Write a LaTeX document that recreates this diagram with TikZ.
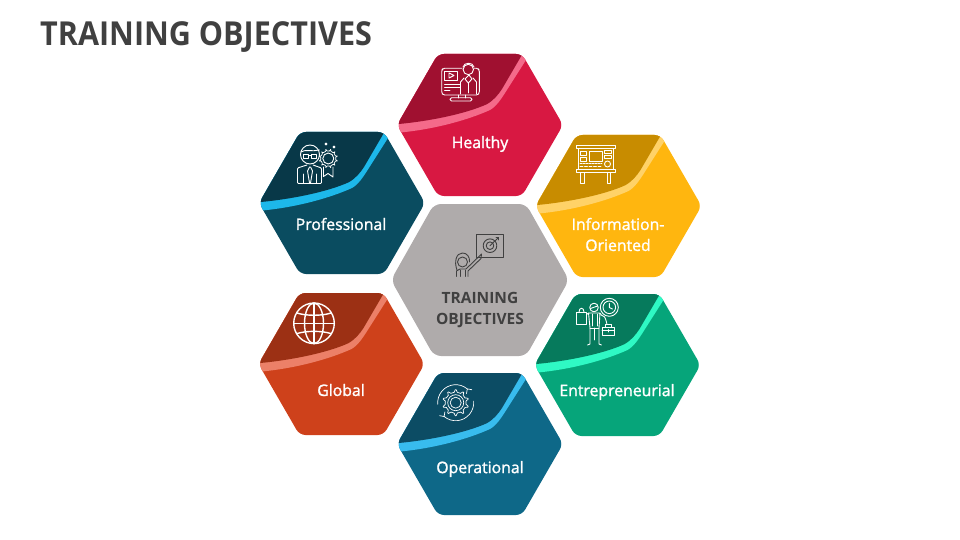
\documentclass[tikz,border=0pt]{standalone}
\usepackage{fontspec}
\setmainfont{Open Sans}
\newfontfamily\labelfont{Open Sans}[FakeBold=1.4]
\newfontfamily\titlefont{Open Sans Bold}[FakeStretch=0.925]
\usepackage{tikz}
\usetikzlibrary{positioning,arrows.meta}
\definecolor{titlegray}{HTML}{404040}
\definecolor{centergray}{HTML}{AFABAB}
\definecolor{healthyfill}{HTML}{D81842}
\definecolor{healthydark}{HTML}{A01030}
\definecolor{healthylight}{HTML}{F46A8A}
\definecolor{proffill}{HTML}{0A4C60}
\definecolor{profdark}{HTML}{083848}
\definecolor{proflight}{HTML}{1DB8EA}
\definecolor{infofill}{HTML}{FFB60F}
\definecolor{infodark}{HTML}{C88C00}
\definecolor{infolight}{HTML}{FFD268}
\definecolor{entrefill}{HTML}{06A57A}
\definecolor{entredark}{HTML}{067A5C}
\definecolor{entrelight}{HTML}{2FF9C4}
\definecolor{globalfill}{HTML}{CE411B}
\definecolor{globaldark}{HTML}{9C3014}
\definecolor{globallight}{HTML}{EC8068}
\definecolor{operfill}{HTML}{0E6888}
\definecolor{operdark}{HTML}{0C4C64}
\definecolor{operlight}{HTML}{38BCEE}
\newcommand*{\hexpath}{(-62.5,-35.5) -- (-42,-71) -- (42,-71) -- (83,0) -- (42,71) -- (-42,71) -- (-83,0) -- cycle}
\newcommand*{\hexcard}[5]{
	\begin{scope}[shift={(#1,#2)}]
		\fill[#4, rounded corners=6pt] \hexpath;
		\begin{scope}
			\clip[rounded corners=6pt] \hexpath;
			\fill[#5] (-90,8.3) -- (-77.7,7.3) .. controls (-45,4) and (-12,-5) .. (10,-15) .. controls (17,-19) and (21,-26) .. (25,-32) -- (46,-65) -- (60,-90) -- (-90,-90) -- cycle;
			\fill[#3] (-90,0) -- (-81,-1) .. controls (-50,-4) and (-15,-11) .. (6.7,-20.7) .. controls (14,-25) and (18,-30) .. (22,-36) -- (43,-72) -- (50,-90) -- (-90,-90) -- cycle;
		\end{scope}
	\end{scope}
}
% toothed ring around a point, radii in pt
\newcommand*{\toothring}[5]{
	\begin{scope}[shift={(#1,#2)}]
		\foreach \a in {0,#5,...,359}
			\draw[icon, line width=0.7pt] (\a-9:#3 pt) -- (\a+9:#3 pt) -- (\a+16:#4 pt) -- (\a+#5-16:#4 pt) -- (\a+#5-9:#3 pt);
	\end{scope}
}

\begin{document}
\begin{tikzpicture}[x=1pt,y=-1pt]
	\tikzstyle{heading}=[text=titlegray, font=\fontsize{33}{36}\selectfont\titlefont, anchor=west, inner sep=0pt]
	\tikzstyle{caption}=[text=white, font=\fontsize{15.8}{21}\selectfont\labelfont, align=center, inner sep=0pt]
	\tikzstyle{centercaption}=[text=titlegray, font=\fontsize{15.5}{21}\selectfont\bfseries, align=center, inner sep=0pt]
	\tikzstyle{icon}=[draw=white, line width=0.9pt, line join=round, line cap=round]
	\tikzstyle{darkicon}=[draw=titlegray, line width=0.9pt, line join=round, line cap=round]
	\useasboundingbox (0,0) rectangle (960,540);

	\node (Title) [heading] at (40,37.5) {TRAINING OBJECTIVES};

	% hexagons
	\hexcard{480}{125}{healthydark}{healthyfill}{healthylight}
	\hexcard{342}{203}{profdark}{proffill}{proflight}
	\hexcard{618.5}{206}{infodark}{infofill}{infolight}
	\hexcard{617.5}{365}{entredark}{entrefill}{entrelight}
	\hexcard{341.5}{364}{globaldark}{globalfill}{globallight}
	\hexcard{480}{444}{operdark}{operfill}{operlight}
	\fill[centergray, rounded corners=7pt] (480,204) -- (526,204) -- (569,280) -- (526,356) -- (434,356) -- (391,280) -- (434,204) -- cycle;

	% labels
	\node (Healthy) [caption] at (480,144) {Healthy};
	\node (Professional) [caption] at (341,224) {Professional};
	\node (Information) [caption] at (618,234.5) {Information-\\Oriented};
	\node (Entrepreneurial) [caption] at (617,392) {Entrepreneurial};
	\node (Global) [caption] at (341,390) {Global};
	\node (Operational) [caption] at (480,469) {Operational};
	\node (Objectives) [centercaption] at (480,310) {TRAINING\\OBJECTIVES};

	% healthy icon
	\draw[icon, rounded corners=1.5pt] (463,95) -- (443,95) -- (441.7,93) -- (441.7,70) -- (443,68.3) -- (462,68.3);
	\draw[icon, rounded corners=1.5pt] (474,68.3) -- (478,68.3) -- (479.3,70) -- (479.3,93) -- (478,95) -- (463,95);
	\draw[icon] (444.3,71) rectangle (457.7,80);
	\draw[icon] (449,73) -- (454,75.5) -- (449,78) -- cycle;
	\draw[icon] (444.5,84) -- (460,84);
	\draw[icon] (444.5,87) -- (460,87);
	\draw[icon] (444.5,90) -- (450,90);
	\draw[icon] (458,95) -- (458,98);
	\draw[icon] (465,95) -- (465,98);
	\draw[icon, rounded corners=1.5pt] (450,97.8) rectangle (472,101);
	\draw[icon] (468.3,69.5) circle (5.2);
	\draw[icon] (463,67) .. controls (464,62) and (473,62) .. (474,67);
	\draw[icon] (469,75) -- (465,79) -- (468.3,83) -- (472,79) -- cycle;
	\draw[icon] (468.3,83) -- (468.3,93);
	\draw[icon] (460.5,94) -- (460.5,82) -- (464,78);
	\draw[icon] (476.5,94) -- (476.5,82) -- (473,78);

	% professional icon
	\draw[icon] (310,154.5) circle (9.5);
	\draw[icon] (300.8,152) .. controls (305,149) and (312,152) .. (319.3,150);
	\draw[icon] (303.5,154) rectangle (308.5,158);
	\draw[icon] (311.5,154) rectangle (316.5,158);
	\draw[icon] (308.5,155) -- (311.5,155);
	\draw[icon, rounded corners=1pt] (307,165) -- (297.5,168) -- (297.5,183.5) -- (321.5,183.5) -- (321.5,168) -- (313,165);
	\draw[icon] (309.5,167) -- (307.5,171) -- (309.5,183);
	\draw[icon] (310.5,167) -- (312.5,171) -- (310.5,183);
	\draw[icon] (303,174) -- (303,183.5);
	\draw[icon] (316.5,174) -- (316.5,183.5);
	\draw[icon] (328.3,158.5) circle (5.5);
	\toothring{328.3}{158.5}{7.6}{9.3}{30}
	\draw[icon] (323.5,167) -- (323.5,176.5) -- (328,173.5) -- (333,177) -- (333,167);
	\draw[icon] (326,143) -- (327,144) -- (326,145) -- (325,144) -- cycle;
	\draw[icon] (334,146) -- (335,147) -- (334,148) -- (333,147) -- cycle;

	% information icon
	\draw[icon] (576.7,145.7) rectangle (615,148.3);
	\draw[icon] (578.3,148.3) rectangle (613.3,169);
	\draw[icon] (576.7,169) rectangle (615,172.3);
	\draw[icon] (580.7,172.3) rectangle (584,183.3);
	\draw[icon] (607.3,172.3) rectangle (610.7,183.3);
	\draw[icon] (589.3,151) rectangle (602.7,161);
	\draw[icon] (580.3,151) rectangle (586.7,155);
	\draw[icon] (580.3,157.5) rectangle (586.7,161);
	\draw[icon] (604.5,150.5) rectangle (611,153.5);
	\draw[icon] (604.5,155.5) rectangle (611,158.5);
	\draw[icon] (607.5,164) circle (3);
	\draw[icon, dashed, dash pattern=on 2pt off 1pt] (580,163.5) -- (602,163.5);
	\draw[icon, dashed, dash pattern=on 3pt off 1.5pt] (580,166.5) -- (602,166.5);

	% entrepreneurial icon
	\draw[icon] (609.3,307.3) circle (9);
	\draw[icon] (609.3,307.3) circle (6.3);
	\draw[icon] (609.3,303.5) -- (609.3,307.5) -- (612.5,309);
	\draw[icon] (594,307.5) circle (4.3);
	\draw[icon] (590.5,308.5) -- (597.5,306);
	\draw[icon, rounded corners=1pt] (586.5,314.5) -- (588.5,313) -- (600,313) -- (602,316) .. controls (605,316) and (606,320) .. (607,324.5);
	\draw[icon] (588.5,313) -- (590,328) -- (590,344) -- (587.5,345);
	\draw[icon] (600,313) -- (599,328) -- (599,344) -- (601.5,345);
	\draw[icon] (590,328) -- (599,328);
	\draw[icon] (594.5,328) -- (594.5,340);
	\draw[icon] (592.5,314) -- (592.5,326);
	\draw[icon] (597,314) -- (597,326);
	\draw[icon] (576,312) -- (586.5,312) -- (586.5,324.5) -- (576,324.5) -- cycle;
	\draw[icon] (579,312) .. controls (579,307) and (584,307) .. (584,312);
	\draw[icon] (602,327.5) rectangle (614,335);
	\draw[icon] (605,327.5) -- (605,324.5) -- (611,324.5) -- (611,327.5);
	\draw[icon] (602,330.5) -- (614,330.5);
	\draw[icon] (608,329.5) -- (608,332);

	% global icon
	\draw[icon, line width=1.4pt] (314,323.3) circle (20.3);
	\draw[icon, line width=1.4pt] (314,323.3) ellipse (9.5 and 20.3);
	\draw[icon, line width=1.4pt] (314,303) -- (314,343.6);
	\draw[icon, line width=1.4pt] (293.7,323.3) -- (334.3,323.3);
	\draw[icon, line width=1.4pt] (297,313) .. controls (306,316) and (322,316) .. (331,313);
	\draw[icon, line width=1.4pt] (297,333.6) .. controls (306,330.6) and (322,330.6) .. (331,333.6);

	% operational icon
	\draw[icon, line width=0.7pt] (455.7,402.7) circle (5.5);
	\draw[icon, line width=0.7pt] (455.7,402.7) circle (8);
	\toothring{455.7}{402.7}{10.5}{13}{36}
	\coordinate (Gear) at (455.7,402.7);
	\draw[icon, line width=0.7pt] ([shift={(50:18pt)}]Gear) arc[start angle=50, end angle=185, radius=18pt];
	\draw[icon, line width=0.7pt] ([shift={(230:18pt)}]Gear) arc[start angle=230, end angle=365, radius=18pt];
	\draw[icon, line width=0.7pt] (466.5,393.5) -- (467.3,388.9) -- (471.8,389.7);
	\draw[icon, line width=0.7pt] (444.9,411.9) -- (444.1,416.5) -- (439.6,415.7);

	% center icon
	\draw[darkicon] (476.7,234.3) rectangle (503.3,257.3);
	\draw[darkicon] (490,245.7) circle (6.8);
	\draw[darkicon] (490,245.7) circle (3.8);
	\draw[darkicon] (490,245.7) -- (498.5,237.5);
	\draw[darkicon] (496,237.5) -- (498.5,237.5) -- (498.5,240);
	\draw[darkicon] (462.5,262) circle (5);
	\draw[darkicon] (457,270) .. controls (454,262) and (456,253) .. (462.5,253) .. controls (467,253) and (470,257) .. (469.5,262);
	\draw[darkicon] (456.5,276.5) -- (456.5,271) -- (460,269) -- (466,269) -- (481.5,254) -- (481,258.5) -- (468,271) -- (468,276.5);
	\draw[darkicon] (460.5,276.5) -- (460.5,270);
	\draw[darkicon] (465,276.5) -- (465,270);
\end{tikzpicture}
\end{document}
